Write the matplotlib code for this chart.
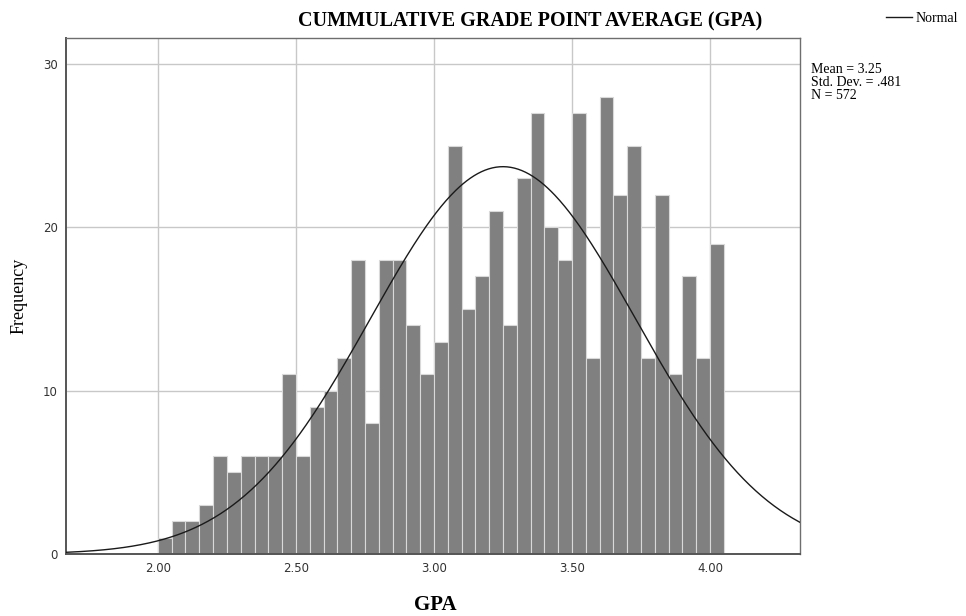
import numpy as np
import matplotlib
matplotlib.use("Agg")
import matplotlib.pyplot as plt
from matplotlib.lines import Line2D

# Histogram of GPA, bins of width 0.05 starting at 2.00
bin_start = 2.00
bin_width = 0.05
counts = [1, 2, 2, 3, 6, 5, 6, 6, 6, 11, 6, 9, 10, 12, 18, 8, 18, 18, 14, 11,
          13, 25, 15, 17, 21, 14, 23, 27, 20, 18, 27, 12, 28, 22, 25, 12, 22,
          11, 17, 12, 19]
mean_gpa = 3.25
std_gpa = 0.481
n_obs = 572

x_ticks = [2.00, 2.50, 3.00, 3.50, 4.00]
x_tick_labels = ["2.00", "2.50", "3.00", "3.50", "4.00"]
y_ticks = [0, 10, 20, 30]

serif = ["Liberation Serif", "DejaVu Serif"]

fig = plt.figure(figsize=(9.66, 6.16), dpi=100)
ax = fig.add_axes([0.0683, 0.1006, 0.7598, 0.8377])

edges = bin_start + bin_width * np.arange(len(counts) + 1)
ax.bar(edges[:-1], counts, width=bin_width, align="edge",
       color="#808080", edgecolor="#d9d9d9", linewidth=0.8, zorder=2)

xlim = (1.667, 4.326)
xs = np.linspace(xlim[0], xlim[1], 600)
scale = n_obs * bin_width
pdf = scale * np.exp(-0.5 * ((xs - mean_gpa) / std_gpa) ** 2) / (std_gpa * np.sqrt(2 * np.pi))
ax.plot(xs, pdf, color="#1a1a1a", linewidth=1.0, zorder=3)

ax.set_xlim(*xlim)
ax.set_ylim(0, 31.6)
ax.set_xticks(x_ticks)
ax.set_xticklabels(x_tick_labels)
ax.set_yticks(y_ticks)
ax.grid(True, color="#c8c8c8", linewidth=1.0, zorder=0)
ax.set_axisbelow(True)
ax.tick_params(axis="both", length=0, labelsize=8.5, labelcolor="#333333", pad=6)

for side in ["left", "bottom"]:
    ax.spines[side].set_color("#555555")
    ax.spines[side].set_linewidth(1.4)
for side in ["top", "right"]:
    ax.spines[side].set_color("#6e6e6e")
    ax.spines[side].set_linewidth(1.0)

fig.text(530 / 966, 1 - 21 / 616, "CUMMULATIVE GRADE POINT AVERAGE (GPA)",
         family=serif, fontweight="bold", fontsize=14.5, ha="center", va="center")
fig.text(435 / 966, 1 - 605 / 616, "GPA", family=serif, fontweight="bold",
         fontsize=15, ha="center", va="center")
fig.text(19 / 966, 1 - 296 / 616, "Frequency", family=serif, fontsize=13,
         rotation=90, ha="center", va="center")

fig.text(811 / 966, 1 - 63 / 616, "Mean = 3.25\nStd. Dev. = .481\nN = 572",
         family=serif, fontsize=10, va="top", ha="left", linespacing=1.02)

leg = fig.legend(handles=[Line2D([], [], color="#1a1a1a", linewidth=1.0)],
                 labels=["Normal"], loc="upper right",
                 bbox_to_anchor=(1.0, 1.0 - 4 / 616),
                 frameon=False, prop={"family": serif, "size": 10},
                 handlelength=1.9, handletextpad=0.2, borderaxespad=0.2)

fig.savefig("out.png", dpi=100)
